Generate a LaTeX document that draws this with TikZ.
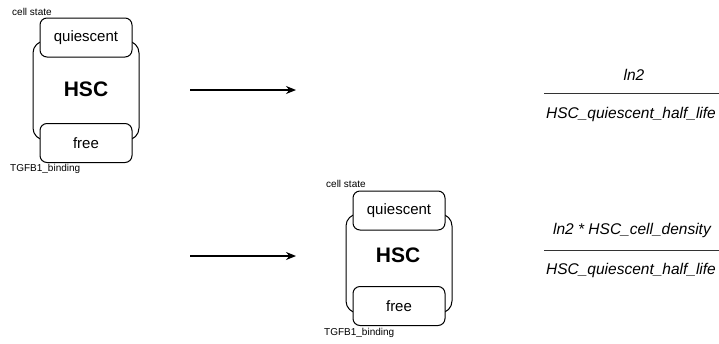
\documentclass[tikz,border=0pt]{standalone}
\usepackage{fontspec}
\setmainfont{Liberation Sans}
\usetikzlibrary{arrows.meta}
\begin{document}
\begin{tikzpicture}[x=1pt,y=-1pt,
  outerbox/.style={draw, line width=1pt, rounded corners=12pt},
  statebox/.style={draw, fill=white, line width=1pt, rounded corners=7pt, minimum width=92pt, minimum height=39pt, inner sep=0pt, font=\fontsize{15}{18}\selectfont},
  hsclabel/.style={font=\fontsize{21}{24}\selectfont\bfseries},
  small/.style={font=\fontsize{10}{12}\selectfont, inner sep=0pt, anchor=west},
  flow/.style={line width=1.2pt, -{Stealth[length=10pt,width=8pt]}},
  fracline/.style={line width=1pt, draw=black!80},
  fractext/.style={font=\fontsize{15.5}{18}\selectfont\itshape, inner sep=0pt}]
\useasboundingbox (0,0) rectangle (719,343);
% first HSC
\draw[outerbox] (33,41) rectangle (139,140);
\node[statebox] (q1) at (86,37.5) {quiescent};
\node[statebox] (f1) at (86,143) {free};
\node[hsclabel] (h1) at (86,89) {HSC};
\node[small] (cs1) at (12,12) {cell state};
\node[small] (tb1) at (10,169) {TGFB1\_binding};
% second HSC
\draw[outerbox] (346,214) rectangle (452,313);
\node[statebox] (q2) at (399,210.5) {quiescent};
\node[statebox] (f2) at (399,306) {free};
\node[hsclabel] (h2) at (398,255) {HSC};
\node[small] (cs2) at (326,184) {cell state};
\node[small] (tb2) at (324,333) {TGFB1\_binding};
% arrows
\coordinate (a1s) at (190,90);
\coordinate (a1e) at (296,90);
\coordinate (a2s) at (190,256);
\coordinate (a2e) at (296,256);
\draw[flow] (a1s) -- (a1e);
\draw[flow] (a2s) -- (a2e);
% fractions
\coordinate (l1s) at (544,93);
\coordinate (l1e) at (719,93);
\draw[fracline] (l1s) -- (l1e);
\node[fractext] (n1) at (634,75) {ln2};
\node[fractext] (d1) at (631,114) {HSC\_quiescent\_half\_life};
\coordinate (l2s) at (544,250);
\coordinate (l2e) at (719,250);
\draw[fracline] (l2s) -- (l2e);
\node[fractext] (n2) at (632,230) {ln2 * HSC\_cell\_density};
\node[fractext] (d2) at (631,270) {HSC\_quiescent\_half\_life};
\end{tikzpicture}
\end{document}
